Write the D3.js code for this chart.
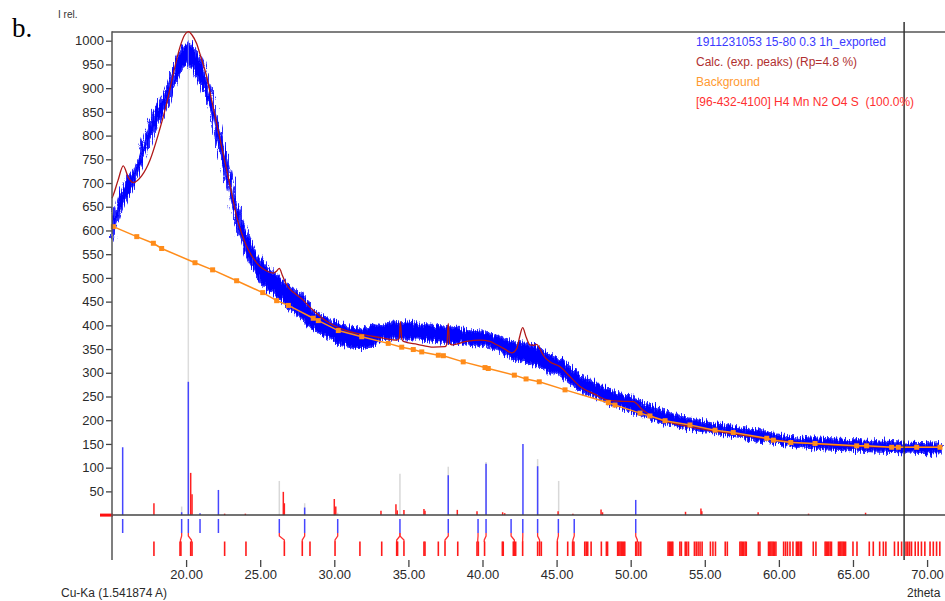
<!DOCTYPE html>
<html>
<head>
<meta charset="utf-8">
<script src="https://d3js.org/d3.v7.min.js"></script>
<style>
body { margin: 0; background: #fff; }
svg { display: block; }
text { font-family: Arial, "Liberation Sans", sans-serif; }
</style>
</head>
<body>
<script>
// observed pattern, read as a band (lower / upper edge of the noisy trace)
var obsT  = [15.0, 15.5, 16.0, 16.44, 17.0, 17.56, 18.1, 18.69, 19.2, 19.59, 19.9, 20.15, 20.4, 20.71, 21.0, 21.39, 21.7, 22.06, 22.4, 22.74, 23.1, 23.41, 23.75, 24.09, 24.5, 24.99, 25.4, 25.88, 26.3, 26.79, 27.3, 27.91, 28.58, 29.26, 30.0, 30.6, 31.3, 31.96, 32.6, 33.31, 34.0, 34.43, 35.0, 35.56, 36.1, 36.68, 37.2, 37.81, 38.4, 38.93, 39.5, 40.05, 40.6, 41.18, 41.6, 42.08, 42.71, 43.2, 43.66, 44.1, 44.55, 45.23, 45.9, 46.58, 47.5, 48.38, 49.3, 50.18, 51.0, 51.98, 53.0, 54.0, 55.1, 56.25, 57.4, 58.5, 59.6, 60.75, 61.9, 63.0, 64.1, 65.25, 66.4, 67.5, 68.6, 69.74, 71.0];
var obsLo = [582, 630, 668, 693, 742, 786, 826, 862, 905, 932, 947, 948, 942, 926, 906, 877, 846, 792, 747, 701, 652, 610, 577, 547, 522, 491, 477, 468, 456, 442, 427, 413, 394, 379, 367, 358, 353, 352, 358, 371, 372, 372, 373, 372, 369, 367, 366, 364, 362, 360, 358, 356, 351, 346, 338, 330, 325, 320, 315, 307, 301, 294, 278, 262, 250, 238, 227, 216, 207, 196, 188, 181, 176, 170, 164, 157, 152, 146, 142, 139, 137, 136, 134, 133, 132, 131, 130];
var obsHi = [612, 675, 706, 724, 776, 828, 866, 900, 942, 976, 992, 996, 987, 976, 957, 921, 886, 843, 796, 751, 701, 653, 621, 597, 566, 541, 526, 514, 502, 486, 471, 462, 428, 420, 408, 400, 396, 393, 397, 401, 405, 407, 406, 404, 401, 399, 398, 396, 393, 390, 388, 386, 381, 376, 371, 365, 361, 358, 354, 346, 337, 330, 312, 295, 281, 267, 256, 246, 236, 222, 212, 203, 196, 189, 184, 180, 172, 165, 162, 161, 159, 158, 156, 154, 153, 152, 150];

// calculated profile
var calcT = [15.0, 15.09, 15.4, 15.76, 16.1, 16.44, 17.0, 17.56, 18.1, 18.69, 19.1, 19.59, 19.9, 20.15, 20.4, 20.71, 21.0, 21.39, 21.7, 22.06, 22.4, 22.74, 23.1, 23.41, 23.75, 24.09, 24.5, 24.99, 25.4, 25.88, 26.1, 26.29, 26.5, 26.79, 27.3, 27.91, 28.3, 28.81, 29.5, 30.16, 30.8, 31.51, 32.4, 33.31, 34.21, 34.38, 34.46, 34.55, 34.66, 35.6, 36.68, 37.47, 37.6, 37.69, 37.78, 37.92, 38.9, 39.83, 40.5, 40.96, 41.5, 41.97, 42.31, 42.5, 42.71, 42.95, 43.2, 43.45, 43.66, 43.85, 44.1, 44.55, 45.23, 45.9, 46.58, 47.5, 48.38, 49.3, 50.18, 50.8, 51.53, 52.7, 54.0, 55.7, 57.37, 59.6, 61.87, 64.0, 66.37, 68.5, 71.0];
var calcI = [668, 675, 705, 736, 712, 701, 715, 748, 800, 868, 925, 987, 1012, 1019, 1012, 994, 965, 924, 878, 826, 776, 727, 675, 629, 594, 566, 543, 524, 515, 510, 514, 520, 505, 485, 468, 453, 440, 425, 408, 397, 389, 383, 378, 373, 369, 372, 408, 372, 366, 360, 354, 355, 360, 404, 362, 359, 366, 369, 366, 359, 350, 342, 351, 375, 395, 375, 359, 358, 360, 352, 337, 323, 313, 292, 271, 256, 243, 240, 239, 222, 207, 195, 186, 177, 169, 159, 151, 147, 144, 143, 143];

// background points
var bgT = [15.09, 16.67, 17.79, 18.35, 20.6, 21.79, 23.41, 25.17, 26.11, 26.9, 28.58, 28.92, 30.27, 31.85, 33.64, 34.55, 35.33, 35.9, 37.02, 37.36, 38.7, 40.17, 40.39, 42.15, 42.94, 43.83, 45.57, 48.49, 48.94, 50.63, 51.3, 52.32, 54.0, 55.69, 56.92, 59.18, 59.63, 60.8, 62.44, 65.25, 65.92, 67.61, 68.06, 69.3, 70.87];
var bgI = [608, 587, 573, 562, 532, 517, 494, 469, 452, 442, 415, 410, 389, 376, 362, 354, 349, 344, 337, 336, 323, 311, 309, 295, 287, 281, 264, 237, 232, 215, 209, 199, 190, 179, 174, 162, 158, 153, 151, 146, 146, 143, 143, 143, 143];

// peak sticks above the zero line
var greyT = [19.70, 26.29, 28.0, 30.23, 34.43, 37.69, 40.24, 43.72, 45.14];
var greyI = [18, 72, 25, 5, 87, 102, 112, 118, 72];
var blueT = [15.72, 19.70, 20.15, 20.94, 22.18, 28.0, 37.69, 40.24, 42.73, 43.72, 50.34];
var blueI = [143, 6, 281, 4, 53, 16, 84, 108, 150, 103, 32];
var diffT = [17.83, 20.31, 20.40, 22.6, 24.0, 26.56, 26.63, 30.0, 30.1, 33.15, 34.16, 34.25, 34.7, 36.05, 36.12, 38.3, 39.63, 41.36, 41.5, 45.1, 46.1, 48.0, 48.1, 53.7, 54.74, 54.8, 58.6, 62.0, 65.85];
var diffI = [25, 89, 44, 3, 3, 49, 25, 34, 18, 9, 23, 10, 11, 13, 9, 11, 8, 6, 4, 8, 3, 12, 6, 7, 14, 8, 6, 3, 5];

// reflection marks below the zero line
var markBlue = [15.72, 19.70, 20.15, 20.94, 22.18, 26.29, 28.0, 30.23, 34.43, 37.69, 39.70, 40.24, 41.93, 42.72, 43.72, 45.12, 46.19, 50.34];
var linkFrom = [19.70, 20.15, 26.29, 28.0, 30.23, 34.43, 34.43, 37.69, 39.70, 40.24, 41.93, 42.72, 43.72, 45.12, 46.19, 50.34];
var linkTo   = [19.62, 20.36, 26.63, 27.84, 30.05, 34.21, 34.70, 37.47, 39.68, 40.12, 42.15, 42.71, 43.85, 45.05, 46.10, 50.45];
var markRed = [17.83, 19.59, 19.65, 20.31, 20.40, 22.60, 24.04, 26.63, 27.84, 28.36, 30.05, 31.73, 33.20, 34.21, 34.27, 34.70, 36.05, 36.12, 37.02, 37.47, 38.33, 39.63, 39.72, 40.14, 41.34, 41.40, 42.08, 42.15, 42.24, 42.71, 43.72, 43.85, 43.97, 45.05, 45.75, 46.08, 46.17, 46.90, 47.00, 47.10, 47.33, 48.02, 48.36, 48.44, 49.12, 49.20, 49.28, 49.36, 49.44, 49.52, 49.60, 50.34, 50.42, 50.55, 50.68, 52.52, 52.60, 52.68, 52.76, 52.84, 53.32, 53.42, 53.68, 53.78, 53.90, 54.30, 54.42, 54.55, 54.68, 54.82, 55.38, 55.55, 55.72, 56.38, 56.52, 57.37, 57.45, 57.53, 57.62, 57.72, 57.80, 58.62, 58.72, 59.30, 59.38, 59.46, 59.54, 59.62, 59.70, 59.80, 60.32, 60.45, 60.58, 60.75, 60.95, 61.18, 61.26, 61.34, 61.44, 61.52, 62.32, 62.50, 63.12, 63.20, 63.28, 63.36, 63.46, 63.55, 64.02, 64.10, 64.18, 64.26, 64.34, 64.42, 64.50, 65.00, 65.27, 66.10, 66.37, 66.80, 67.05, 67.22, 67.80, 68.05, 68.28, 68.58, 68.70, 68.82, 68.95, 69.20, 69.40, 69.62, 69.85, 70.20, 70.42, 70.64, 70.86];

var yTicks = d3.range(50, 1001, 50);
var xTicks = [20, 25, 30, 35, 40, 45, 50, 55, 60, 65, 70];
var legendNames = ["1911231053 15-80 0.3 1h_exported", "Calc. (exp. peaks) (Rp=4.8 %)", "Background", "[96-432-4100] H4 Mn N2 O4 S  (100.0%)"];
var legendColors = ["#3a3aff", "#b03030", "#ff9a30", "#ff3030"];
var cursorT = 68.45;
var refT = 20.15;

var W = 945, H = 601;
var x = d3.scaleLinear().domain([15, 71]).range([112, 941.9]);
var y = d3.scaleLinear().domain([0, 1000]).range([515.1, 40.7]);

var svg = d3.select("body").append("svg")
    .attr("width", W)
    .attr("height", H);

// rough edge for the counting noise of the measured trace (styling only)
var defs = svg.append("defs");
var flt = defs.append("filter").attr("id", "noisy")
  .attr("filterUnits", "userSpaceOnUse")
  .attr("x", 100).attr("y", 20).attr("width", 845).attr("height", 500);
flt.append("feTurbulence").attr("type", "fractalNoise")
  .attr("baseFrequency", "0.9 0.06").attr("numOctaves", 2).attr("seed", 7).attr("result", "t");
flt.append("feDisplacementMap").attr("in", "SourceGraphic").attr("in2", "t")
  .attr("scale", 12).attr("xChannelSelector", "B").attr("yChannelSelector", "R");

// frame line
svg.append("line").attr("x1", 112).attr("x2", W).attr("y1", 32).attr("y2", 32)
  .attr("stroke", "#555").attr("stroke-width", 1.5);

// grey reference line at the main peak
svg.append("line").attr("x1", x(refT)).attr("x2", x(refT)).attr("y1", 33).attr("y2", y(0))
  .attr("stroke", "#dcdcdc").attr("stroke-width", 1.5);

// grey and blue sticks
svg.selectAll(".grey").data(greyT).enter().append("line")
  .attr("x1", function(d) { return x(d); }).attr("x2", function(d) { return x(d); })
  .attr("y1", y(0)).attr("y2", function(d, i) { return y(greyI[i]); })
  .attr("stroke", "#d8d8d8").attr("stroke-width", 1.5);

svg.selectAll(".bstick").data(blueT).enter().append("line")
  .attr("x1", function(d) { return x(d); }).attr("x2", function(d) { return x(d); })
  .attr("y1", y(0)).attr("y2", function(d, i) { return y(blueI[i]); })
  .attr("stroke", "#4646ff").attr("stroke-width", 1.5);

// difference sticks
svg.selectAll(".diff").data(diffT).enter().append("line")
  .attr("x1", function(d) { return x(d); }).attr("x2", function(d) { return x(d); })
  .attr("y1", y(0)).attr("y2", function(d, i) { return y(diffI[i]); })
  .attr("stroke", "#ff2020").attr("stroke-width", 1.5);

// zero line
svg.append("line").attr("x1", 112).attr("x2", W).attr("y1", y(0)).attr("y2", y(0))
  .attr("stroke", "#444").attr("stroke-width", 1.5);
svg.append("rect").attr("x", 100).attr("y", y(0) - 1.5).attr("width", 13).attr("height", 3)
  .attr("fill", "#ff1010");

// observed band
var band = d3.area()
  .x(function(d) { return x(d); })
  .y0(function(d, i) { return y(obsLo[i]); })
  .y1(function(d, i) { return y(obsHi[i]); })
  .curve(d3.curveMonotoneX);
svg.append("path").datum(obsT).attr("d", band)
  .attr("fill", "#0000ff").attr("stroke", "#2a2aff").attr("stroke-width", 2)
  .attr("filter", "url(#noisy)");

// grey line shows through the band near the top
svg.append("line").attr("x1", x(refT)).attr("x2", x(refT)).attr("y1", y(1000)).attr("y2", y(945))
  .attr("stroke", "#c8c8f0").attr("stroke-width", 1).attr("opacity", 0.6);

// calculated curve
var calcLine = d3.line()
  .x(function(d) { return x(d); })
  .y(function(d, i) { return y(calcI[i]); })
  .curve(d3.curveMonotoneX);
svg.append("path").datum(calcT).attr("d", calcLine)
  .attr("fill", "none").attr("stroke", "#b01818").attr("stroke-width", 1.3);

// background
var bgLine = d3.line()
  .x(function(d) { return x(d); })
  .y(function(d, i) { return y(bgI[i]); });
svg.append("path").datum(bgT).attr("d", bgLine)
  .attr("fill", "none").attr("stroke", "#ff8c1a").attr("stroke-width", 1.5);
svg.selectAll(".bgpt").data(bgT).enter().append("rect")
  .attr("x", function(d) { return x(d) - 2.5; })
  .attr("y", function(d, i) { return y(bgI[i]) - 2.5; })
  .attr("width", 5).attr("height", 5)
  .attr("fill", "#ff8c1a");

// reflection marks
svg.selectAll(".mb").data(markBlue).enter().append("line")
  .attr("x1", function(d) { return x(d); }).attr("x2", function(d) { return x(d); })
  .attr("y1", 519).attr("y2", 533)
  .attr("stroke", "#4646ff").attr("stroke-width", 1.5);

svg.selectAll(".lk").data(linkFrom).enter().append("polyline")
  .attr("points", function(d, i) {
    return x(d) + ",533 " + x(d) + ",536 " + x(linkTo[i]) + ",540 " + x(linkTo[i]) + ",542";
  })
  .attr("fill", "none").attr("stroke", "#ff3030").attr("stroke-width", 1.3);

svg.selectAll(".mr").data(markRed).enter().append("line")
  .attr("x1", function(d) { return x(d); }).attr("x2", function(d) { return x(d); })
  .attr("y1", 541.5).attr("y2", 556)
  .attr("stroke", "#ff1a1a").attr("stroke-width", 1.6);

// cursor line
svg.append("line").attr("x1", x(cursorT)).attr("x2", x(cursorT)).attr("y1", 22).attr("y2", 560)
  .attr("stroke", "#333").attr("stroke-width", 1.5);

// axes
var yAxis = d3.axisLeft(y).tickValues(yTicks).tickFormat(d3.format("d")).tickSize(6).tickPadding(2);
var gy = svg.append("g").attr("transform", "translate(112,0)").call(yAxis);
gy.select(".domain").remove();
gy.selectAll(".tick line").attr("stroke", "#444").attr("stroke-width", 1.3);
gy.selectAll(".tick text").attr("fill", "#2a2a2a").style("font-size", "13px")
  .style("font-family", "Arial, 'Liberation Sans', sans-serif");
svg.append("line").attr("x1", 112).attr("x2", 112).attr("y1", 31.3).attr("y2", 560)
  .attr("stroke", "#555").attr("stroke-width", 1.5);

var xAxis = d3.axisBottom(x).tickValues(xTicks).tickFormat(d3.format(".2f")).tickSize(7).tickPadding(3);
var gx = svg.append("g").attr("transform", "translate(0,560)").call(xAxis);
gx.select(".domain").remove();
gx.selectAll(".tick line").attr("stroke", "#444").attr("stroke-width", 1.3);
gx.selectAll(".tick text").attr("fill", "#2a2a2a").style("font-size", "13px")
  .style("font-family", "Arial, 'Liberation Sans', sans-serif");

// labels
svg.append("text").attr("x", 12).attr("y", 37).text("b.")
  .style("font-family", "'Liberation Serif', 'Times New Roman', serif").style("font-size", "27px").attr("fill", "#000");
svg.append("text").attr("x", 58).attr("y", 18).text("I rel.")
  .style("font-size", "10px").attr("fill", "#333");
svg.append("text").attr("x", 61).attr("y", 597).text("Cu-Ka (1.541874 A)")
  .style("font-size", "12px").attr("fill", "#2a2a2a");
svg.append("text").attr("x", 907).attr("y", 597).text("2theta")
  .style("font-size", "12px").attr("fill", "#2a2a2a");

// legend
svg.selectAll(".leg").data(legendNames).enter().append("text")
  .attr("x", 696)
  .attr("y", function(d, i) { return 46 + i * 20; })
  .attr("fill", function(d, i) { return legendColors[i]; })
  .style("font-size", "12px")
  .style("white-space", "pre")
  .text(function(d) { return d; });
</script>
</body>
</html>
